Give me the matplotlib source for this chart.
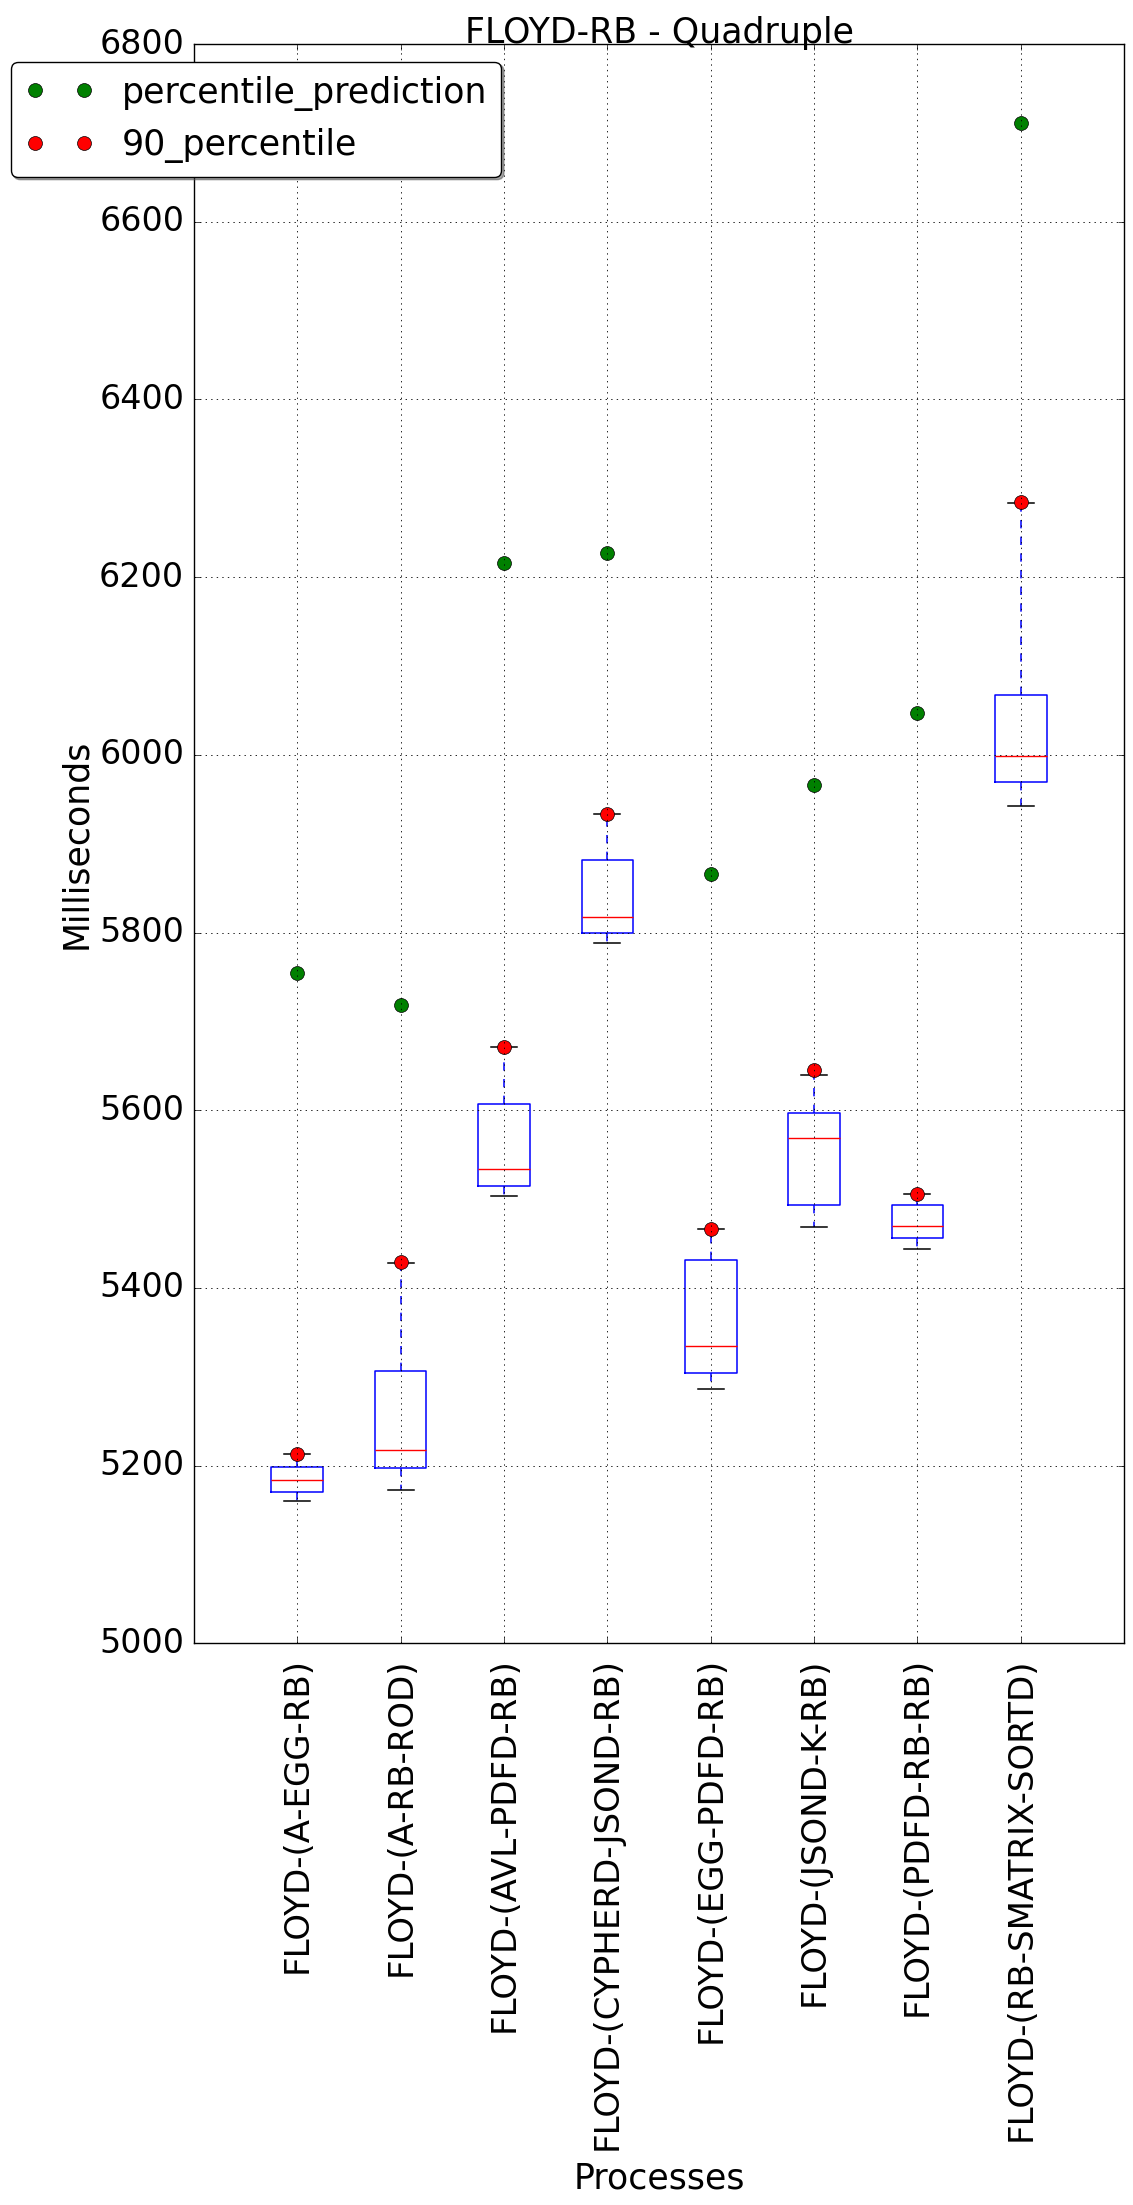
import matplotlib
matplotlib.use('Agg')
import matplotlib.pyplot as plt
import numpy as np

plt.style.use('classic')

# values (milliseconds)
processes = ['FLOYD-(A-EGG-RB)', 'FLOYD-(A-RB-ROD)', 'FLOYD-(AVL-PDFD-RB)',
             'FLOYD-(CYPHERD-JSOND-RB)', 'FLOYD-(EGG-PDFD-RB)', 'FLOYD-(JSOND-K-RB)',
             'FLOYD-(PDFD-RB-RB)', 'FLOYD-(RB-SMATRIX-SORTD)']
whis_low = [5160, 5173, 5504, 5788, 5286, 5469, 5444, 5943]
q1 = [5170, 5197, 5515, 5800, 5304, 5493, 5456, 5969]
median = [5184, 5218, 5534, 5817, 5335, 5569, 5470, 5999]
q3 = [5198, 5307, 5607, 5882, 5432, 5597, 5493, 6067]
whis_high = [5213, 5428, 5671, 5933, 5466, 5640, 5506, 6284]
percentile_90 = [5213, 5429, 5671, 5933, 5466, 5645, 5506, 6285]
percentile_prediction = [5755, 5719, 6216, 6227, 5866, 5966, 6047, 6711]

fig = plt.figure(figsize=(11.33, 22.05), dpi=100)
ax = fig.add_axes([0.1712, 0.2547, 0.8209, 0.7253])

stats = []
for i in range(len(processes)):
    stats.append({'med': median[i], 'q1': q1[i], 'q3': q3[i],
                  'whislo': whis_low[i], 'whishi': whis_high[i], 'fliers': []})

positions = np.arange(1, len(processes) + 1)
ax.bxp(stats, positions=positions, widths=0.5, showfliers=False,
       boxprops=dict(color='b', linewidth=1.1),
       whiskerprops=dict(color='b', linestyle='--', linewidth=1.1),
       capprops=dict(color='k', linewidth=1.1),
       medianprops=dict(color='r', linewidth=1.0))

# the two series of points on top of the boxes
ax.plot(positions, percentile_prediction, 'o', color='green', markersize=10,
        markeredgecolor='k', label='percentile_prediction')
ax.plot(positions, percentile_90, 'o', color='red', markersize=10,
        markeredgecolor='k', label='90_percentile')

ax.set_xlim(0, 9)
ax.set_ylim(5000, 6800)
ax.set_yticks(np.arange(5000, 6801, 200))
ax.set_xticks(positions)
ax.set_xticklabels(processes, rotation=90, fontsize=24.5)
ax.tick_params(axis='y', labelsize=24, pad=7)
ax.tick_params(axis='x', pad=10)
ax.grid(True, color='k', linestyle=':', linewidth=0.6)

ax.set_title('FLOYD-RB - Quadruple', fontsize=25, pad=1)
ax.set_xlabel('Processes', fontsize=25, labelpad=8)
ax.set_ylabel('Milliseconds', fontsize=25, labelpad=4)

ax.legend(loc='upper left', bbox_to_anchor=(0.0094, 0.972), bbox_transform=fig.transFigure,
          borderaxespad=0, numpoints=2, fontsize=25, fancybox=True, shadow=True)

fig.savefig('out.png', dpi=100)
